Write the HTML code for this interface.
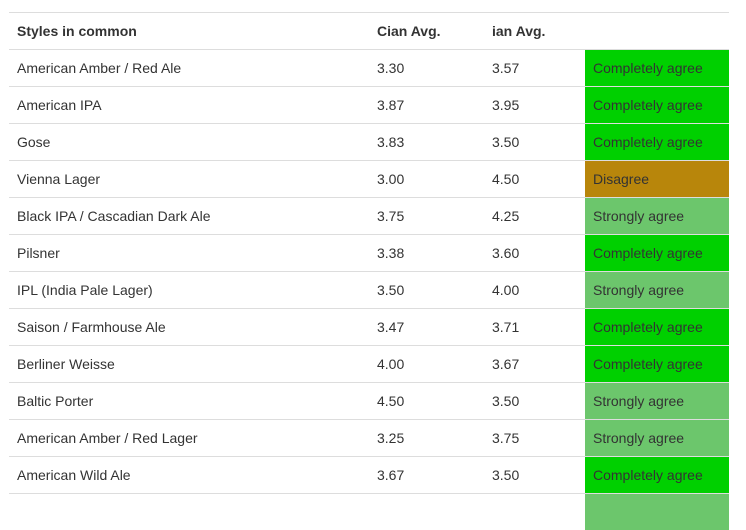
<!DOCTYPE html>
<html><head><meta charset="utf-8"><style>
body{margin:0;background:#fff;width:746px;height:503px;overflow:hidden;position:relative;font-family:"Liberation Sans",sans-serif;font-size:14px;color:#333}
.row{position:absolute;left:9px;width:720px;height:36px;border-top:1px solid #ddd}
.c{position:absolute;top:0;line-height:36px}
.n{left:8px}.a{left:368px}.b{left:483px}
.s{left:576px;width:144px;padding-left:8px;box-sizing:border-box;top:0;height:36px;color:#333}
.hdr{font-weight:bold}
</style></head><body>
<div id="t"></div>
<script>
const styles=["American Amber / Red Ale","American IPA","Gose","Vienna Lager","Black IPA / Cascadian Dark Ale","Pilsner","IPL (India Pale Lager)","Saison / Farmhouse Ale","Berliner Weisse","Baltic Porter","American Amber / Red Lager","American Wild Ale",""];
const cianAvg=["3.30","3.87","3.83","3.00","3.75","3.38","3.50","3.47","4.00","4.50","3.25","3.67",""];
const ianAvg=["3.57","3.95","3.50","4.50","4.25","3.60","4.00","3.71","3.67","3.50","3.75","3.50",""];
const verdicts=["Completely agree","Completely agree","Completely agree","Disagree","Strongly agree","Completely agree","Strongly agree","Completely agree","Completely agree","Strongly agree","Strongly agree","Completely agree",""];
const colors={"Completely agree":"#00d000","Strongly agree":"#6cc66c","Disagree":"#b8860b","":"#6cc66c"};
const t=document.getElementById('t');
const h=document.createElement('div');h.className='row hdr';h.style.top='12px';


h.innerHTML='<span class="c n">Styles in common</span><span class="c a">Cian Avg.</span><span class="c b">ian Avg.</span>';
t.appendChild(h);
styles.forEach((s,i)=>{
 const r=document.createElement('div');r.className='row';r.style.top=(49+i*37)+'px';
 
 
 r.innerHTML='<span class="c n">'+s+'</span><span class="c a">'+cianAvg[i]+'</span><span class="c b">'+ianAvg[i]+'</span><span class="c s" style="background:'+colors[verdicts[i]]+'">'+verdicts[i]+'</span>';
 t.appendChild(r);
});
</script>
</body></html>
